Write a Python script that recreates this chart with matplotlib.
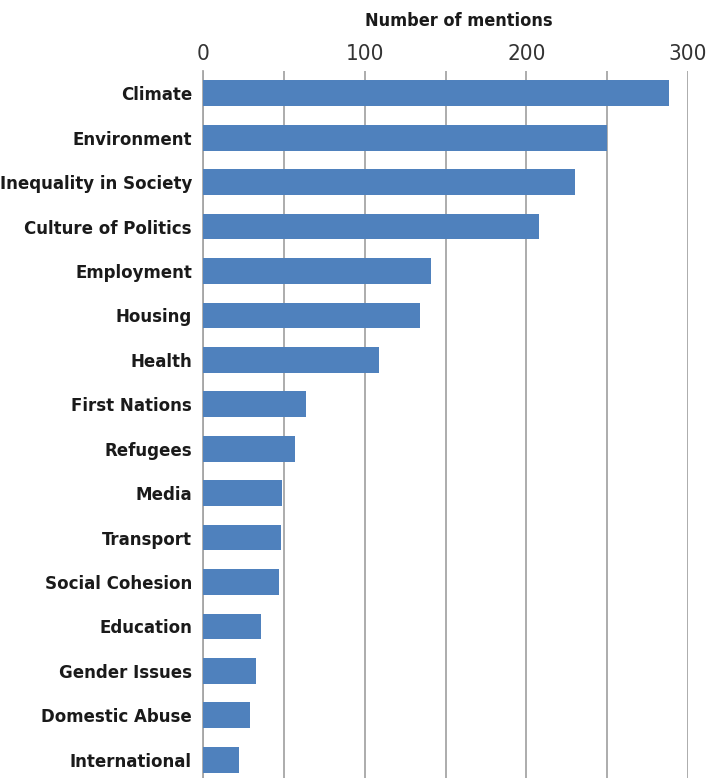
import matplotlib
matplotlib.use("Agg")
import matplotlib.pyplot as plt
from matplotlib import font_manager as fm

categories = ["Climate", "Environment", "Inequality in Society", "Culture of Politics",
              "Employment", "Housing", "Health", "First Nations", "Refugees", "Media",
              "Transport", "Social Cohesion", "Education", "Gender Issues",
              "Domestic Abuse", "International"]
values = [288, 250, 230, 208, 141, 134, 109, 64, 57, 49, 48, 47, 36, 33, 29, 22]
xticks = [0, 100, 200, 300]
xlabel = "Number of mentions"

has_cond = any(f.name == "DejaVu Sans" and str(f.stretch) in ("condensed", "semi-condensed")
               for f in fm.fontManager.ttflist)
if has_cond:
    plt.rcParams['font.family'] = ["DejaVu Sans"]
    plt.rcParams['font.stretch'] = "condensed"
    lab_size, tick_size, title_size = 13.3, 16, 13
else:
    plt.rcParams['font.family'] = ["Liberation Sans", "DejaVu Sans"]
    lab_size, tick_size, title_size = 14, 17, 14

fig = plt.figure(figsize=(7.08, 7.78), dpi=100)
W, H = 708, 778
left, right = 203 / W, 688 / W
top_px, bot_px = 71, 782
ax = fig.add_axes([left, (H - bot_px) / H, right - left, (bot_px - top_px) / H])

y = list(range(len(categories)))
ax.barh(y, values, height=0.58, color="#4f81bd", zorder=3)
ax.set_ylim(len(categories) - 0.5, -0.5)
ax.set_xlim(0, 300)
ax.set_yticks(y)
ax.set_yticklabels(categories, fontsize=lab_size, fontweight="bold", color="#1a1a1a")
ax.set_xticks(xticks)
ax.set_xticks([50, 150, 250], minor=True)
ax.xaxis.tick_top()
ax.tick_params(axis="x", which="both", length=0, labelsize=tick_size, labelcolor="#333333", pad=5)
ax.tick_params(axis="y", length=0, pad=8)
fig.text(459 / W, (H - 21) / H, xlabel, ha="center", va="center",
         fontsize=title_size, fontweight="bold", color="#1a1a1a")
ax.grid(axis="x", which="both", color="#a6a6a6", linewidth=1.3, zorder=0)
for s in ["top", "right", "bottom"]:
    ax.spines[s].set_visible(False)
ax.spines["left"].set_color("#a6a6a6")
ax.spines["left"].set_linewidth(1.3)

fig.savefig("out.png", dpi=100)
